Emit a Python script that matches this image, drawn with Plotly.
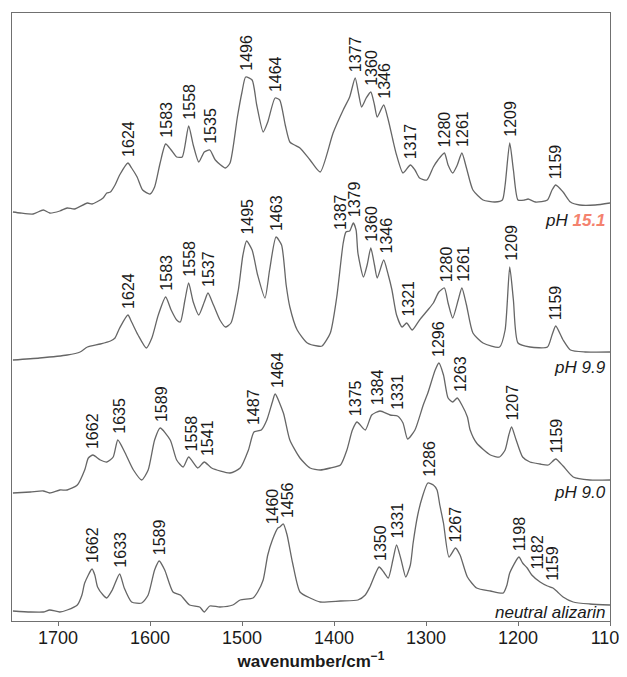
import numpy as np
import plotly.graph_objects as go

# ---------------- data ----------------
# pH 15.1
wn_151 = [1749, 1741, 1727, 1716, 1709, 1698, 1690, 1682, 1668, 1663, 1658, 1651, 1647, 1643, 1638, 1633,
          1624, 1620, 1614, 1608, 1600, 1595, 1589, 1583, 1577, 1571, 1565, 1558, 1553, 1547, 1541, 1535,
          1529, 1518, 1513, 1505, 1500, 1496, 1489, 1484, 1477, 1472, 1464, 1459, 1453, 1448, 1443, 1437,
          1426, 1415, 1401, 1390, 1383, 1377, 1373, 1370, 1365, 1360, 1356, 1353, 1346, 1341, 1336, 1332,
          1325, 1317, 1312, 1307, 1299, 1292, 1287, 1280, 1276, 1271, 1266, 1261, 1256, 1249, 1238, 1225,
          1217, 1214, 1209, 1205, 1200, 1193, 1189, 1181, 1168, 1163, 1159, 1151, 1143, 1133, 1116, 1100]
int_151 = [1, 0, -1, 3, 0, 2, 5, 4, 10, 9, 11, 15, 20, 21, 28, 38,
           50, 45, 36, 23, 19, 26, 50, 69, 63, 56, 56, 87, 68, 51, 61, 63,
           53, 45, 50, 96, 121, 136, 133, 108, 81, 91, 115, 113, 88, 71, 68, 65,
           53, 41, 80, 103, 116, 135, 118, 106, 115, 121, 108, 96, 108, 93, 73, 58,
           40, 48, 43, 35, 33, 46, 53, 60, 48, 40, 48, 60, 45, 23, 13, 11,
           13, 28, 70, 43, 13, 13, 14, 11, 13, 23, 28, 21, 11, 8, 8, 10]

# pH 9.9
wn_99 = [1749, 1720, 1690, 1676, 1668, 1654, 1643, 1638, 1633, 1624, 1620, 1613, 1604, 1598, 1591, 1583,
         1577, 1571, 1567, 1562, 1558, 1553, 1547, 1541, 1537, 1531, 1524, 1518, 1512, 1504, 1499, 1495,
         1489, 1483, 1475, 1470, 1463, 1457, 1452, 1448, 1440, 1429, 1418, 1413, 1404, 1397, 1390, 1387,
         1383, 1379, 1376, 1374, 1368, 1364, 1360, 1356, 1353, 1346, 1341, 1337, 1332, 1326, 1321, 1315,
         1307, 1298, 1292, 1286, 1280, 1276, 1271, 1265, 1261, 1256, 1249, 1238, 1220, 1214, 1209, 1205,
         1200, 1187, 1168, 1163, 1159, 1151, 1143, 1127, 1100]
int_99 = [-5, -3, 0, 3, 8, 11, 14, 17, 27, 40, 33, 20, 7, 17, 40, 58,
          45, 35, 33, 55, 72, 53, 40, 53, 62, 50, 35, 28, 32, 65, 100, 114,
          105, 80, 57, 85, 118, 110, 70, 48, 25, 12, 9, 9, 22, 58, 112, 123,
          124, 132, 125, 102, 78, 90, 107, 90, 77, 95, 80, 65, 40, 28, 32, 25,
          35, 45, 52, 63, 67, 52, 37, 55, 67, 50, 22, 12, 8, 25, 88, 55,
          12, 8, 8, 20, 29, 15, 5, 3, 3]

# pH 9.0
wn_90 = [1749, 1730, 1716, 1709, 1698, 1690, 1679, 1671, 1667, 1662, 1654, 1647, 1640, 1635, 1627, 1618,
         1609, 1602, 1595, 1589, 1578, 1571, 1564, 1558, 1548, 1541, 1533, 1513, 1502, 1493, 1487, 1479,
         1473, 1467, 1464, 1455, 1448, 1437, 1426, 1415, 1404, 1393, 1386, 1380, 1375, 1366, 1359, 1350,
         1339, 1331, 1325, 1320, 1312, 1303, 1298, 1290, 1286, 1281, 1276, 1271, 1266, 1261, 1255, 1252,
         1245, 1230, 1220, 1214, 1210, 1207, 1202, 1195, 1187, 1176, 1167, 1159, 1151, 1140, 1122, 1100]
int_90 = [-2, -1, 0, -2, 1, 1, 6, 21, 33, 36, 31, 29, 34, 51, 38, 21,
          11, 21, 51, 63, 51, 31, 24, 34, 23, 29, 23, 18, 23, 41, 59, 61,
          71, 89, 97, 78, 51, 33, 23, 21, 23, 26, 41, 61, 69, 61, 76, 80,
          76, 75, 68, 52, 61, 86, 98, 121, 128, 116, 93, 89, 93, 86, 74, 61,
          48, 36, 34, 41, 56, 64, 51, 34, 29, 27, 26, 32, 25, 14, 11, 11]

# neutral alizarin
wn_neu = [1749, 1730, 1716, 1709, 1698, 1690, 1679, 1674, 1671, 1663, 1660, 1657, 1651, 1647, 1641, 1633,
          1628, 1620, 1609, 1602, 1595, 1590, 1584, 1575, 1567, 1557, 1546, 1541, 1535, 1524, 1510, 1502,
          1488, 1483, 1477, 1472, 1467, 1461, 1459, 1455, 1451, 1445, 1437, 1426, 1415, 1393, 1374, 1366,
          1361, 1351, 1346, 1341, 1336, 1332, 1327, 1322, 1317, 1314, 1309, 1304, 1298, 1292, 1288, 1285,
          1281, 1275, 1268, 1263, 1255, 1245, 1230, 1216, 1212, 1209, 1199, 1195, 1190, 1185, 1176, 1168,
          1162, 1157, 1151, 1140, 1122, 1100]
int_neu = [0, -1, -1, 1, -1, 1, 6, 16, 28, 42, 36, 24, 16, 13, 21, 37,
           23, 9, 8, 16, 41, 50, 41, 19, 16, 6, 4, -1, 5, 4, 6, 11,
           13, 19, 31, 56, 71, 83, 84, 87, 76, 48, 19, 13, 9, 10, 11, 16,
           24, 44, 39, 33, 51, 66, 51, 34, 46, 68, 96, 114, 128, 126, 121, 106,
           88, 54, 63, 56, 34, 23, 20, 18, 26, 38, 54, 48, 43, 36, 29, 25,
           23, 19, 14, 9, 7, 6]

spectra_names = ["pH 15.1", "pH 9.9", "pH 9.0", "neutral alizarin"]
spectra_offsets = [408, 266, 130, 10]

# peak labels (text) and the wavenumber where each label sits
peaks_151 = ["1624", "1583", "1558", "1535", "1496", "1464", "1377", "1360", "1346", "1317", "1280", "1261", "1209", "1159"]
peakx_151 = [1624, 1583, 1558, 1535, 1496, 1464, 1377, 1360, 1346, 1317, 1280, 1261, 1209, 1159]
peaks_99 = ["1624", "1583", "1558", "1537", "1495", "1463", "1387", "1379", "1360", "1346", "1321", "1280", "1261", "1209", "1159"]
peakx_99 = [1624, 1583, 1558, 1537, 1495, 1463, 1393, 1378, 1360, 1344, 1320, 1278, 1260, 1208, 1159]
peaks_90 = ["1662", "1635", "1589", "1558", "1541", "1487", "1464", "1375", "1384", "1331", "1296", "1263", "1207", "1159"]
peakx_90 = [1663, 1634, 1588, 1555, 1538, 1488, 1462, 1377, 1353, 1331, 1287, 1263, 1207, 1158]
peaks_neu = ["1662", "1633", "1589", "1460", "1456", "1350", "1331", "1286", "1267", "1198", "1182", "1159"]
peakx_neu = [1663, 1633, 1590, 1467, 1451, 1350, 1332, 1297, 1268, 1198, 1179, 1162]

x_ticks = [1700, 1600, 1500, 1400, 1300, 1200, 1100]

# ---------------- figure ----------------
fig = go.Figure()
all_wn = [wn_151, wn_99, wn_90, wn_neu]
all_int = [int_151, int_99, int_90, int_neu]
all_peaks = [peaks_151, peaks_99, peaks_90, peaks_neu]
all_peakx = [peakx_151, peakx_99, peakx_90, peakx_neu]

FONT = "Liberation Sans, Arial"
LINE_COLOR = "#666666"
annotations = []
for wn, inten, off, name, ptxt, px in zip(all_wn, all_int, spectra_offsets, spectra_names, all_peaks, all_peakx):
    y = [v + off for v in inten]
    fig.add_trace(go.Scatter(x=wn, y=y, mode="lines", name=name,
                             line=dict(color=LINE_COLOR, width=1.3, shape="spline", smoothing=0.6),
                             showlegend=False, hoverinfo="skip"))
    xa = np.array(wn[::-1], dtype=float)
    ya = np.array(y[::-1], dtype=float)
    for t, xp in zip(ptxt, px):
        grid = np.linspace(xp - 5, xp + 5, 41)
        ytop = float(np.max(np.interp(grid, xa, ya)))
        annotations.append(dict(x=xp, y=ytop + 4, xref="x", yref="y", text=t, textangle=-90,
                                showarrow=False, xanchor="center", yanchor="bottom",
                                font=dict(family=FONT, size=16, color="#1a1a1a")))

# spectrum names
name_font = dict(family=FONT, size=17, color="#1a1a1a")
name_y = [401, 254, 129, 9]
name_txt = ["<i>pH </i><i><b><span style='color:#f4826e'>15.1</span></b></i>", "<i>pH 9.9</i>", "<i>pH 9.0</i>", "<i>neutral alizarin</i>"]
for t, yy in zip(name_txt, name_y):
    annotations.append(dict(x=1102, y=yy, xref="x", yref="y", text=t, showarrow=False,
                            xanchor="right", yanchor="middle", font=name_font))

# the page body adds an 8px margin; the figure is sized to fit the window
fig.update_layout(
    width=619, height=669,
    margin=dict(l=4, r=17, t=5, b=56),
    paper_bgcolor="white", plot_bgcolor="white",
    annotations=annotations,
    font=dict(family=FONT, color="#1a1a1a"),
)
fig.update_xaxes(range=[1750, 1100], tickvals=x_ticks, ticktext=[str(v) for v in x_ticks],
                 showgrid=False, zeroline=False, showline=True, linecolor="#707070", linewidth=1.3,
                 mirror=True, ticks="outside", ticklen=4, tickcolor="#707070",
                 ticklabeloverflow="allow", automargin=False, ticklabelstandoff=-4,
                 tickfont=dict(family=FONT, size=18, color="#1a1a1a"),
                 title=dict(text="<b>wavenumber/cm<sup>−1</sup></b>", standoff=8,
                            font=dict(family=FONT, size=17, color="#1a1a1a")))
fig.update_yaxes(range=[0, 608], showgrid=False, zeroline=False, showticklabels=False,
                 showline=True, linecolor="#707070", linewidth=1.3, mirror=True, ticks="",
                 automargin=False)

fig.write_html("out.html")
